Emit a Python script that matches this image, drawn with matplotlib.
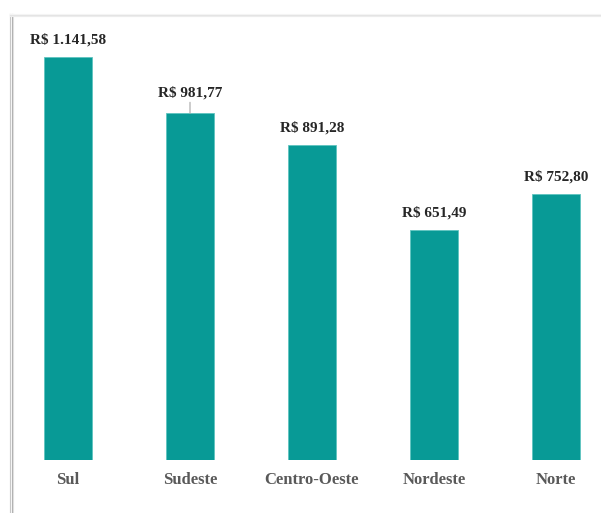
import matplotlib.pyplot as plt
from matplotlib.lines import Line2D

regioes = ['Sul', 'Sudeste', 'Centro-Oeste', 'Nordeste', 'Norte']
valores = [1141.58, 981.77, 891.28, 651.49, 752.80]
rotulos = ['R$ 1.141,58', 'R$ 981,77', 'R$ 891,28', 'R$ 651,49', 'R$ 752,80']

plt.rcParams['font.family'] = ['Liberation Serif', 'DejaVu Serif']

fig = plt.figure(figsize=(6.01, 5.13), dpi=100)
ax = fig.add_axes([0, 53 / 513, 1, 460 / 513])

x = range(len(regioes))
ax.bar(x, valores, width=0.4, color='#089a96', edgecolor='#5fc4c0', linewidth=0.6)

for i, (v, txt) in enumerate(zip(valores, rotulos)):
    if i == 1:
        # label lifted a bit, with a leader line down to the bar
        ax.annotate(txt, xy=(i, v), xytext=(0, 10), textcoords='offset points',
                    ha='center', va='bottom', fontsize=11, fontweight='bold',
                    color='#262626',
                    arrowprops=dict(arrowstyle='-', color='#a6a6a6', lw=0.8,
                                    shrinkA=0, shrinkB=0))
    else:
        ax.annotate(txt, xy=(i, v), xytext=(0, 7.5), textcoords='offset points',
                    ha='center', va='bottom', fontsize=11, fontweight='bold',
                    color='#262626')

ax.set_xlim(-68 / 122, 533 / 122)
ax.set_ylim(0, 460 / (403 / 1141.58))
ax.set_xticks(list(x))
ax.set_xticklabels(regioes, fontsize=12, fontweight='bold', color='#595959')
ax.tick_params(axis='x', length=0, pad=9)
ax.set_yticks([])
for s in ax.spines.values():
    s.set_visible(False)
ax.patch.set_alpha(0)

# box frame with soft shadow on the left and top
for dx, c in [(9.5, '#ececec'), (10.5, '#c8c8c8'), (11.5, '#b0b0b0'), (12.5, '#e0e0e0')]:
    fig.add_artist(Line2D([dx / 601, dx / 601], [0, 1 - 14 / 513],
                          color=c, lw=0.8, transform=fig.transFigure))
for dy, c in [(13.5, '#f5f5f5'), (14.5, '#e4e4e4'), (15.5, '#ececec')]:
    fig.add_artist(Line2D([10 / 601, 1], [1 - dy / 513, 1 - dy / 513],
                          color=c, lw=0.8, transform=fig.transFigure))

fig.savefig('out.png', dpi=100)
